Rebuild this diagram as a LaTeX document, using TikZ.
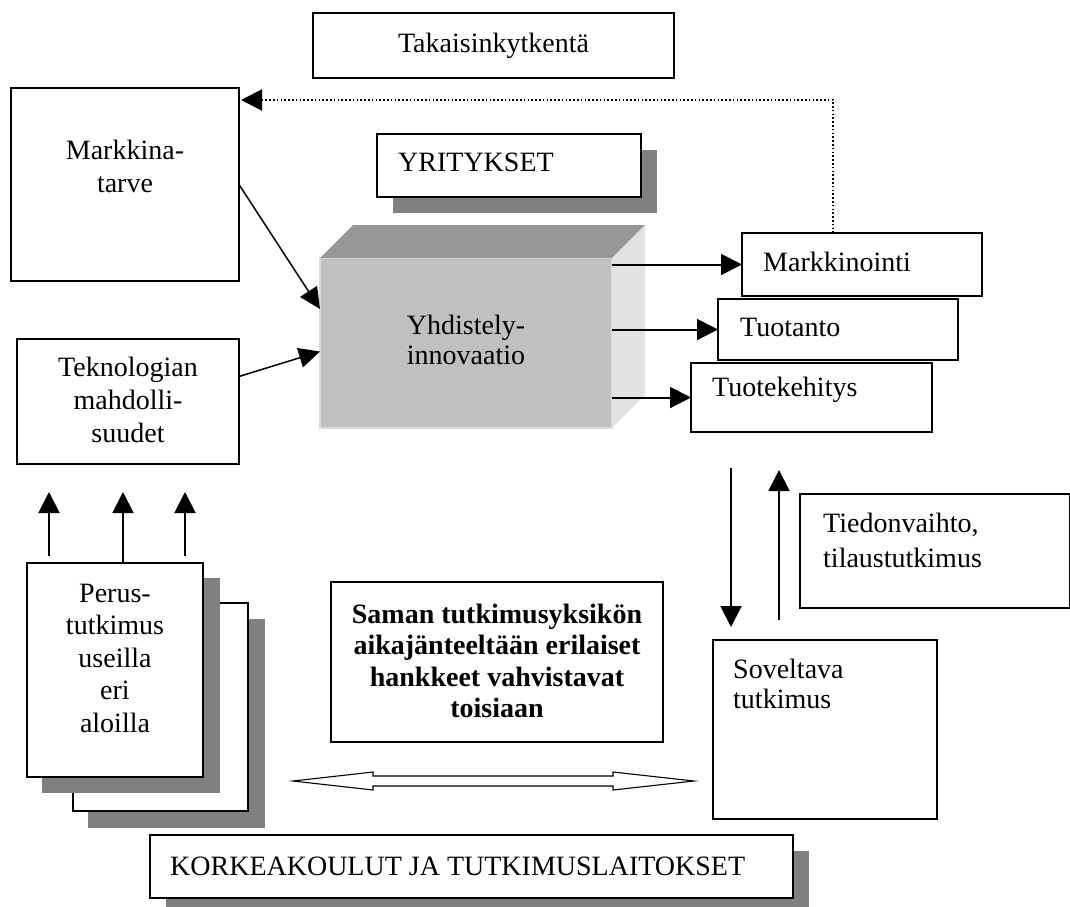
\documentclass[tikz,border=0pt]{standalone}
\usepackage{fontspec}
\setmainfont{Liberation Serif}
\usetikzlibrary{calc,arrows.meta}
\definecolor{shadowgray}{HTML}{808080}
\definecolor{cubefront}{HTML}{C0C0C0}
\definecolor{cubetop}{HTML}{979797}
\definecolor{cubeside}{HTML}{E2E2E2}
\definecolor{cubeedge}{HTML}{DADADA}
\begin{document}
\begin{tikzpicture}[x=1pt,y=-1pt,
  txt/.style={font=\fontsize{28}{32}\selectfont, inner sep=0pt},
  box/.style={draw=black, line width=1.9pt, fill=white, inner sep=0pt,
    outer sep=0pt, anchor=north west},
  frame/.style={draw=black, line width=1.9pt, fill=white},
  arr/.style={line width=2pt, -{Triangle[length=21pt,width=21pt]}},
  thinarr/.style={line width=1.5pt, -{Triangle[length=21pt,width=20pt]}},
  dotline/.style={line width=2pt, dash pattern=on 1.6pt off 2.2pt,
    -{Triangle[length=21pt,width=21pt]}, shorten >=2pt},
  hollow/.style={draw=black, line width=1.1pt, fill=white, line join=miter},
]
\useasboundingbox (0,0) rectangle (1070,906);

% ---------- boxes ----------
\node[box, minimum width=361pt, minimum height=65pt] (fb) at (313,13) {};
\node[txt] (fbt) at (fb.center) {Takaisinkytkentä};

\node[box, minimum width=228pt, minimum height=193pt] (markt) at (11,88) {};
\node[txt, align=center, font=\fontsize{28}{33}\selectfont] (marktt) at (125,166) {Markkina-\\tarve};

% company block with drop shadow
\node[box, draw=none, fill=none, minimum width=264pt, minimum height=63pt] (yrit) at (377,134) {};
\fill[shadowgray] ($(yrit.north west)+(16,16)$) rectangle ($(yrit.south east)+(16,16)$);
\draw[frame] (yrit.north west) rectangle (yrit.south east);
\node[txt, anchor=west] (yritt) at (398,162) {YRITYKSET};

% 3-D block
\node[box, draw=cubeedge, line width=1.5pt, fill=cubefront,
  minimum width=292pt, minimum height=170pt] (cube) at (320,258) {};
\fill[cubetop] (cube.north west) -- ++(33,-33) -- ($(cube.north east)+(33,-33)$)
  -- (cube.north east) -- cycle;
\fill[cubeside] (cube.north east) -- ++(33,-33) -- ($(cube.south east)+(33,-33)$)
  -- (cube.south east) -- cycle;
\node[txt, align=center, font=\fontsize{28}{30}\selectfont] (cubet) at (466,340) {Yhdistely-\\innovaatio};

\node[box, minimum width=240pt, minimum height=63pt] (markn) at (742,233) {};
\node[txt, anchor=west] (marknt) at (763,262) {Markkinointi};
\node[box, minimum width=240pt, minimum height=61pt] (tuot) at (718,299) {};
\node[txt, anchor=west] (tuott) at (740,327) {Tuotanto};
\node[box, minimum width=241pt, minimum height=69pt] (kehit) at (691,363) {};
\node[txt, anchor=west] (kehitt) at (712,390) {Tuotekehitys};

\node[box, minimum width=222pt, minimum height=125pt] (tek) at (17,339) {};
\node[txt, align=center, font=\fontsize{28}{33}\selectfont] (tekt) at (128,400) {Teknologian\\mahdolli-\\suudet};

% stacked research pages
\node[box, draw=none, fill=none, minimum width=175pt, minimum height=208pt] (page) at (73,603) {};
\fill[shadowgray] ($(page.north west)+(15,16)$) rectangle ($(page.south east)+(17,17)$);
\draw[frame] (page.north west) rectangle (page.south east);
\node[box, draw=none, fill=none, minimum width=176pt, minimum height=214pt] (perus) at (27,563) {};
\fill[shadowgray] ($(perus.north west)+(15,15)$) rectangle ($(perus.south east)+(17,16)$);
\draw[frame] (perus.north west) rectangle (perus.south east);
\node[txt, align=center, font=\fontsize{28}{32.5}\selectfont] (perust) at (115,658)
  {Perus-\\tutkimus\\useilla\\eri\\aloilla};

\node[box, minimum width=270pt, minimum height=114pt] (tied) at (800,494) {};
\node[txt, anchor=west, align=left, font=\fontsize{28}{35}\selectfont] (tiedt) at (823,540)
  {Tiedonvaihto,\\tilaustutkimus};

\node[box, minimum width=224pt, minimum height=179pt] (sov) at (713,640) {};
\node[txt, anchor=west, align=left, font=\fontsize{28}{30}\selectfont] (sovt) at (733,684)
  {Soveltava\\tutkimus};

\node[box, minimum width=332pt, minimum height=160pt] (saman) at (331,582) {};
\node[txt, align=center, font=\bfseries\fontsize{28}{31.3}\selectfont] (samant) at (497,661)
  {Saman tutkimusyksikön\\aikajänteeltään erilaiset\\hankkeet vahvistavat\\toisiaan};

\node[box, draw=none, fill=none, minimum width=643pt, minimum height=63pt] (korkea) at (150,835) {};
\fill[shadowgray] ($(korkea.north west)+(16,16)$) rectangle ($(korkea.south east)+(16,16)$);
\draw[frame] (korkea.north west) rectangle (korkea.south east);
\node[txt, anchor=west] (korkeat) at (170,866) {KORKEAKOULUT JA TUTKIMUSLAITOKSET};

% ---------- connectors ----------
\draw[thinarr] (markt.east) -- ($(cube.north west)!0.3!(cube.south west)$);
\draw[thinarr] ($(tek.north east)!0.3!(tek.south east)$) -- ($(cube.north west)!0.55!(cube.south west)$);

\draw[arr] (cube.east |- markn.west) -- (markn.west);
\draw[arr] (cube.east |- tuot.west) -- (tuot.west);
\draw[arr] (cube.east |- kehit.west) -- (kehit.west);

% feedback loop
\coordinate (fbrow) at (0,100);
\coordinate (fbstart) at ($(markn.north west)!0.38!(markn.north east)$);
\draw[dotline] (fbstart) -- (fbstart |- fbrow) -- (markt.east |- fbrow);

% basic research feeding technology
\coordinate (tekbelow) at ($(tek.south)+(0,28)$);
\coordinate (up1) at ($(perus.north west)+(22,-7)$);
\coordinate (up2) at ($(perus.north west)+(96,0)$);
\coordinate (up3) at ($(perus.north west)+(158,-7)$);
\draw[arr] (up1) -- (up1 |- tekbelow);
\draw[arr] (up2) -- (up2 |- tekbelow);
\draw[arr] (up3) -- (up3 |- tekbelow);

% exchange between development and applied research
\coordinate (dn1) at ($(kehit.south west)+(40,36)$);
\coordinate (dn2) at ($(sov.north west)+(18,-13)$);
\coordinate (upa) at ($(sov.north west)+(66,-20)$);
\coordinate (upb) at ($(kehit.south west)+(88,38)$);
\draw[arr] (dn1) -- (dn2);
\draw[arr] (upa) -- (upb);

% hollow two-way arrow
\coordinate (la) at ($(perus.south east)+(90,4)$);
\coordinate (ra) at ($(sov.north west)+(-19,141)$);
\draw[hollow] (la) -- ++(80,-9) -- ++(0,4) -- ($(ra)+(-81,-5)$) -- ++(0,-4) -- (ra)
  -- ++(-81,9) -- ++(0,-4) -- ($(la)+(80,5)$) -- ++(0,4) -- cycle;

\end{tikzpicture}
\end{document}
